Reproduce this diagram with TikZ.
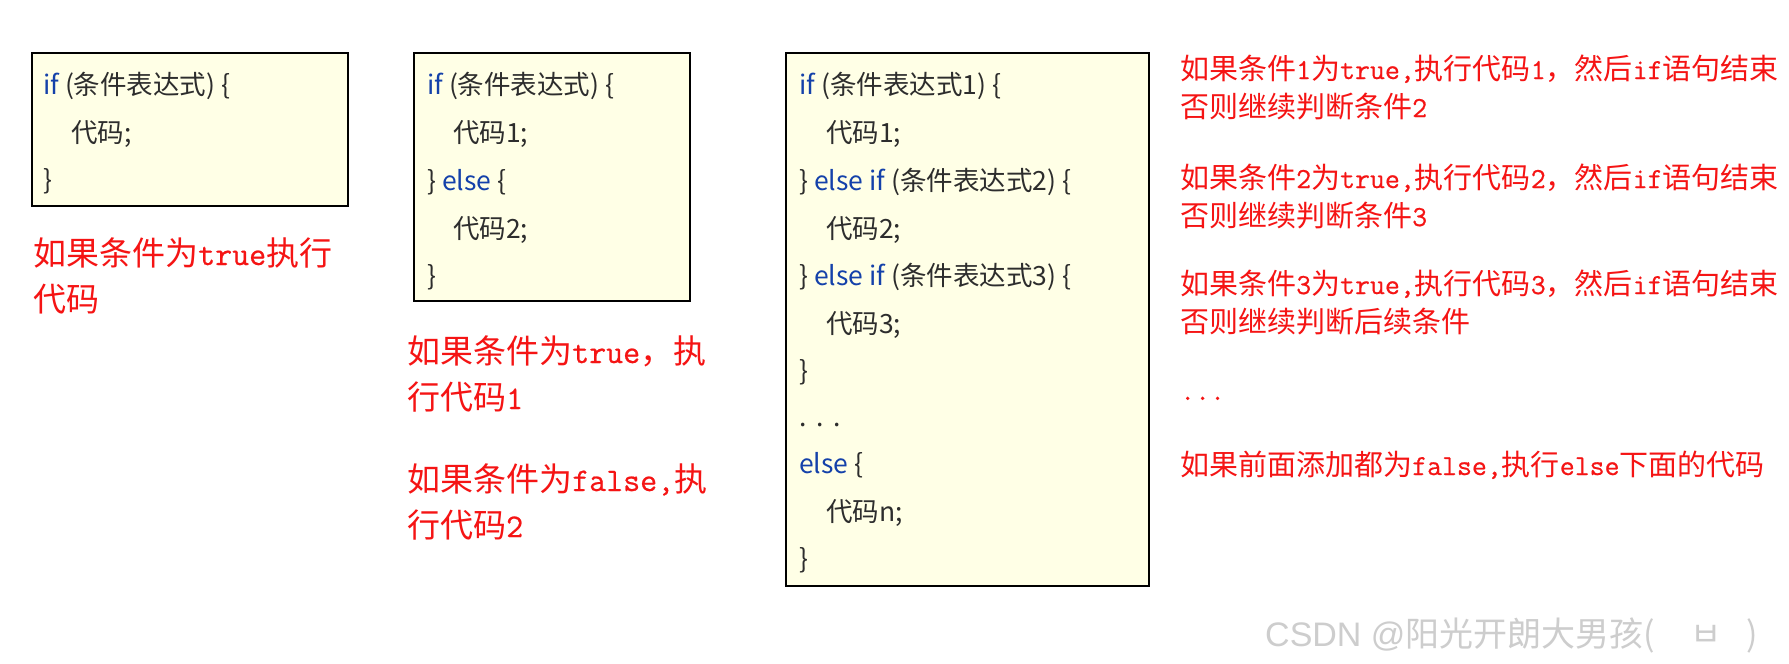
\documentclass[tikz,border=0pt]{standalone}
\usepackage{fontspec}
\setmainfont{Noto Sans CJK SC}
\newfontfamily\latsans{Liberation Sans}
\newfontfamily\redmono[FakeBold=0.6]{Latin Modern Mono}
\newcommand\mtx[1]{{\redmono #1}}
\newcommand\kw[1]{\textcolor{kwblue}{#1}}
\definecolor{kwblue}{RGB}{20,65,170}
\definecolor{codegray}{RGB}{45,45,45}
\definecolor{boxfill}{RGB}{255,255,230}
\definecolor{redtxt}{RGB}{245,20,20}
\definecolor{wm}{RGB}{205,205,205}
\begin{document}
\begin{tikzpicture}[x=1pt,y=-1pt,
  codebox/.style={draw=black, line width=2pt, fill=boxfill, inner sep=0, anchor=north west},
  code/.style={anchor=base west, inner sep=0, text=codegray, font=\fontsize{26.5}{26.5}\selectfont},
  redbig/.style={anchor=base west, inner sep=0, text=redtxt, font=\fontsize{33}{33}\selectfont},
  redsm/.style={anchor=base west, inner sep=0, text=redtxt, font=\fontsize{29}{29}\selectfont},
  wmark/.style={anchor=base west, inner sep=0, text=wm, font=\fontsize{34}{34}\selectfont}]
\useasboundingbox (0,0) rectangle (1789,664);
\fill[white] (0,0) rectangle (1789,664);
% boxes
\node[codebox, minimum width=316pt, minimum height=153pt] (b1) at (31,52) {};
\node[codebox, minimum width=276pt, minimum height=248pt] (b2) at (413,52) {};
\node[codebox, minimum width=363pt, minimum height=533pt] (b3) at (785,52) {};
% box 1
\node[code] (b1l1) at (43,94) {\kw{if} (条件表达式) \{};
\node[code] (b1l2) at (71,142) {代码;};
\node[code] (b1l3) at (43,189) {\}};
% box 2
\node[code] (b2l1) at (427,94) {\kw{if} (条件表达式) \{};
\node[code] (b2l2) at (453,142) {代码1;};
\node[code] (b2l3) at (427,190) {\} \kw{else} \{};
\node[code] (b2l4) at (453,238) {代码2;};
\node[code] (b2l5) at (427,285) {\}};
% box 3
\node[code] (b3l1) at (799,94) {\kw{if} (条件表达式1) \{};
\node[code] (b3l2) at (826,142) {代码1;};
\node[code] (b3l3) at (799,190) {\} \kw{else if} (条件表达式2) \{};
\node[code] (b3l4) at (826,238) {代码2;};
\node[code] (b3l5) at (799,285) {\} \kw{else if} (条件表达式3) \{};
\node[code] (b3l6) at (826,333) {代码3;};
\node[code] (b3l7) at (799,380) {\}};
\node[code] (b3l8) at (799,426) {.\hspace{10pt}.\hspace{10pt}.};
\node[code] (b3l9) at (799,473) {\kw{else} \{};
\node[code] (b3l10) at (826,521) {代码n;};
\node[code] (b3l11) at (799,568) {\}};
% captions
\node[redbig] (c1a) at (33,265) {如果条件为\mtx{true}执行};
\node[redbig] (c1b) at (33,311) {代码};
\node[redbig] (c2a) at (407,363) {如果条件为\mtx{true}，执};
\node[redbig] (c2b) at (407,409) {行代码\mtx{1}};
\node[redbig] (c2c) at (407,491) {如果条件为\mtx{false,}执};
\node[redbig] (c2d) at (407,537) {行代码\mtx{2}};
% right notes
\node[redsm] (r1a) at (1180,79) {如果条件\mtx{1}为\mtx{true,}执行代码\mtx{1}，然后\mtx{if}语句结束};
\node[redsm] (r1b) at (1180,117) {否则继续判断条件\mtx{2}};
\node[redsm] (r2a) at (1180,188) {如果条件\mtx{2}为\mtx{true,}执行代码\mtx{2}，然后\mtx{if}语句结束};
\node[redsm] (r2b) at (1180,226) {否则继续判断条件\mtx{3}};
\node[redsm] (r3a) at (1180,294) {如果条件\mtx{3}为\mtx{true,}执行代码\mtx{3}，然后\mtx{if}语句结束};
\node[redsm] (r3b) at (1180,332) {否则继续判断后续条件};
\node[redsm] (r4) at (1180,400) {\mtx{...}};
\node[redsm] (r5) at (1180,475) {如果前面添加都为\mtx{false,}执行\mtx{else}下面的代码};
% watermark
\node[wmark] (wm) at (1265,646) {{\latsans CSDN @}阳光开朗大男孩(\hspace{36pt}ㅂ\hspace{24pt})};
\end{tikzpicture}
\end{document}
